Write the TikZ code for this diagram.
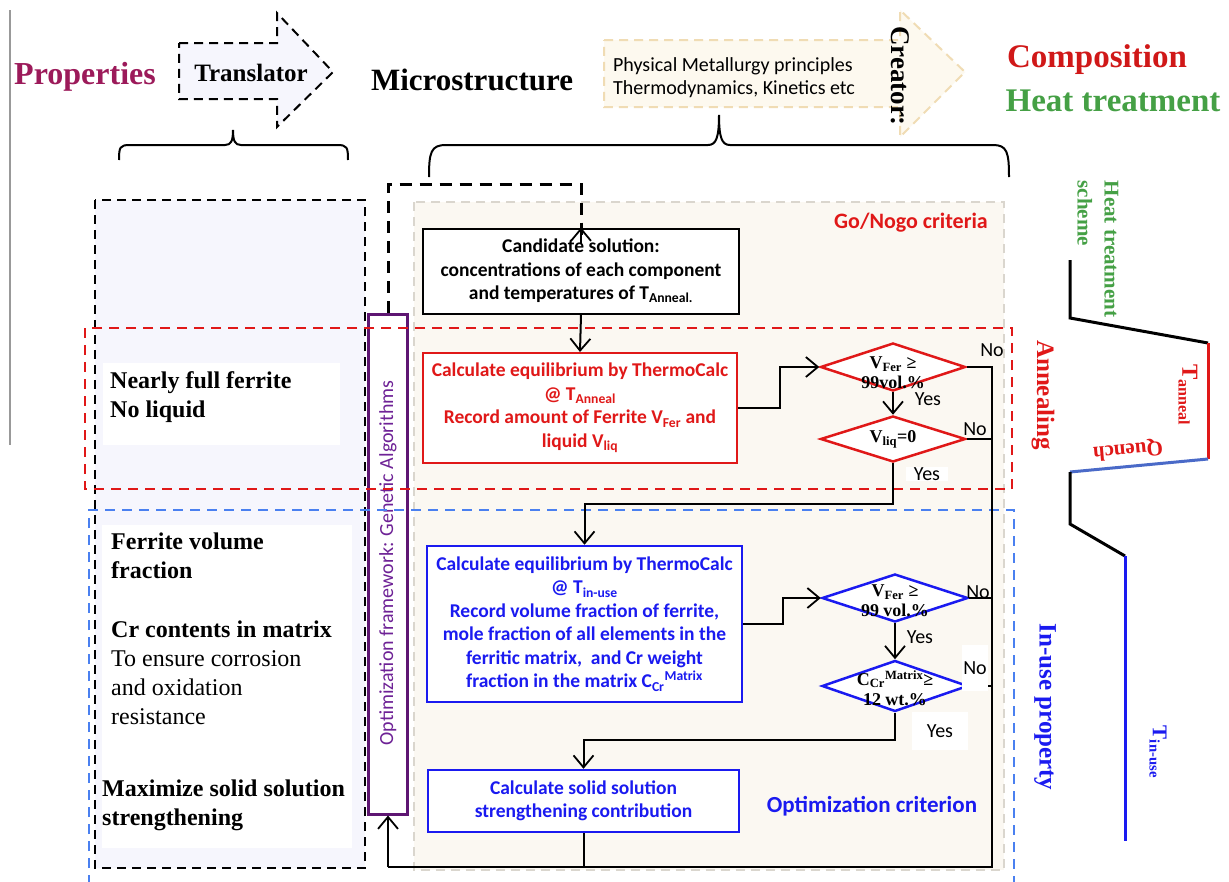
\documentclass[tikz,border=0pt]{standalone}
\usepackage{fontspec}
\setmainfont{Liberation Serif}
\newfontfamily\calib{Carlito}
\usetikzlibrary{arrows.meta,shapes.geometric}
\definecolor{propcol}{HTML}{9C1A5A}
\definecolor{compcol}{HTML}{D01818}
\definecolor{heatcol}{HTML}{45A045}
\definecolor{redc}{HTML}{E01818}
\definecolor{bluec}{HTML}{1A1AF0}
\definecolor{bluedash}{HTML}{4A80F0}
\definecolor{purp}{HTML}{5E1672}
\definecolor{purptext}{HTML}{6E2296}
\definecolor{beige}{HTML}{FBF8F2}
\definecolor{beigeline}{HTML}{DAD6CE}
\definecolor{lav}{HTML}{F6F6FD}
\definecolor{creafill}{HTML}{FDF9EF}
\definecolor{crealine}{HTML}{F0DCB4}
\definecolor{quenchc}{HTML}{4A6AC8}
\newcommand\myfs[2]{\fontsize{#1}{#2}\selectfont}
\begin{document}
\begin{tikzpicture}[x=1pt,y=-1pt,
  conn/.style={line width=2pt,black},
  arr/.style={conn,-{Straight Barb[length=12pt,width=20pt,line width=1.8pt]}},
  fbk/.style={line width=3pt,black,dash pattern=on 12pt off 8pt},
  boxtxt/.style={font=\calib\bfseries\myfs{19.5}{23.5}, align=center, fill=white, inner sep=0pt},
  cbox/.style={boxtxt, draw=black, line width=2pt},
  rbox/.style={boxtxt, draw=redc, text=redc, line width=2pt},
  bluebox/.style={boxtxt, draw=bluec, text=bluec, line width=2.5pt},
  dia/.style={diamond, inner sep=0pt, fill=white, line width=2.5pt},
  dtxt/.style={font=\bfseries\myfs{18}{20}, align=center, inner sep=0pt},
  yn/.style={font=\calib\myfs{20}{22}, inner sep=1pt},
  lefttxt/.style={font=\myfs{24}{29}, align=left, anchor=north west, inner sep=0pt},
]
\useasboundingbox (0,0) rectangle (1229,881);
\fill[white] (0,0) rectangle (1229,881);

% left gray line
\draw[line width=1.5pt, gray!80] (10,10) -- (10,445);

% top row
\node[font=\bfseries\myfs{32}{36}, text=propcol] (props) at (85,77) {Properties};
\draw[line width=2pt, dash pattern=on 9pt off 6pt, fill=lav]
  (179,43) -- (277,43) -- (277,13) -- (333,72) -- (277,127) -- (277,99) -- (179,99) -- cycle;
\node[font=\bfseries\myfs{25}{30}] (transl) at (251,73) {Translator};
\node[font=\bfseries\myfs{31}{36}] (micro) at (472,80) {Microstructure};
\draw[line width=2pt, crealine, dash pattern=on 9pt off 6pt, fill=creafill]
  (604,40) -- (900,40) -- (900,10) -- (965,72) -- (900,137) -- (900,107) -- (604,107) -- cycle;
\node[font=\calib\myfs{20}{23}, align=left] (phys) at (734,78) {Physical Metallurgy principles\\Thermodynamics, Kinetics etc};
\node[font=\bfseries\myfs{27}{30}, rotate=-90] (creator) at (900,76) {Creator:};
\node[font=\bfseries\myfs{33}{38}, text=compcol] (comp) at (1097,60) {Composition};
\node[font=\bfseries\myfs{33}{38}, text=heatcol] (heat) at (1113,101) {Heat treatment};

% braces
\draw[line width=2pt] (119,160) .. controls (119,147) and (120,145) .. (130,145) -- (225,145)
  .. controls (231,145) and (233,141) .. (233,130) .. controls (233,141) and (235,145) .. (241,145)
  -- (337,145) .. controls (347,145) and (348,147) .. (348,160);
\draw[line width=2pt] (429,177) .. controls (429,152) and (431,145) .. (446,145) -- (708,145)
  .. controls (716,145) and (719,138) .. (719,115) .. controls (719,138) and (722,145) .. (730,145)
  -- (993,145) .. controls (1007,145) and (1009,152) .. (1009,177);

% background regions
\draw[line width=2pt, dash pattern=on 9pt off 6pt, fill=lav] (95,200) rectangle (365,868);
\draw[line width=2pt, beigeline, dash pattern=on 9pt off 6pt, fill=beige] (414,202) rectangle (1004,870);
\fill[white] (103,363) rectangle (340,445);
\fill[white] (102,525) rectangle (352,848);

% purple GA bar
\node[draw=purp, line width=3pt, fill=white, minimum width=39pt, minimum height=500pt, inner sep=0pt] (gabar) at (388,564) {};
\node[font=\calib\myfs{20}{22}, text=purptext, rotate=90] (gatxt) at (388,563) {Optimization framework: Genetic Algorithms};

% dashed regions
\draw[line width=2pt, redc, dash pattern=on 10pt off 7pt] (85,328) rectangle (1012,489);
\draw[line width=2pt, bluedash, dash pattern=on 10pt off 7pt] (89,885) -- (89,510) -- (1014,510) -- (1014,885);

% left texts
\node[lefttxt, font=\bfseries\myfs{24}{29}] (t1) at (110,371) {Nearly full ferrite\\No liquid};
\node[lefttxt, font=\bfseries\myfs{24}{29}] (t2) at (111,533) {Ferrite volume\\fraction};
\node[lefttxt] (t3) at (111,621) {\textbf{Cr contents in matrix}\\To ensure corrosion\\and oxidation\\resistance};
\node[lefttxt, font=\bfseries\myfs{24}{29}] (t4) at (102,780) {Maximize solid solution\\strengthening};

% flow labels
\node[font=\calib\bfseries\myfs{22}{24}, text=redc] (gonogo) at (911,223) {Go/Nogo criteria};
\node[font=\calib\bfseries\myfs{23}{25}, text=bluec] (optcrit) at (872,806) {Optimization criterion};

% boxes
\node[cbox, minimum width=316pt, minimum height=85pt] (cand) at (581,271)
  {Candidate solution:\\concentrations of each component\\and temperatures of T\textsubscript{Anneal.}};
\node[rbox, minimum width=314pt, minimum height=110pt] (rb) at (580,408)
  {Calculate equilibrium by ThermoCalc\\@ T\textsubscript{Anneal}\\Record amount of Ferrite V\textsubscript{Fer} and\\liquid V\textsubscript{liq}};
\node[bluebox, minimum width=315pt, minimum height=156pt] (bb1) at (584.5,624)
  {Calculate equilibrium by ThermoCalc\\@ T\textsubscript{in-use}\\Record volume fraction of ferrite,\\mole fraction of all elements in the\\ferritic matrix,\ \ and Cr weight\\fraction in the matrix C\textsubscript{Cr}\textsuperscript{Matrix}};
\node[bluebox, minimum width=311pt, minimum height=62pt] (bb2) at (583.5,801)
  {Calculate solid solution\\strengthening contribution};

% diamonds
\node[dia, draw=redc, minimum width=145pt, minimum height=48pt] (d1) at (893,367) {};
\node[dtxt] (d1t) at (893,373) {V\textsubscript{Fer} ≥\\99vol.\%};
\node[dia, draw=redc, minimum width=145pt, minimum height=46pt] (d2) at (893,439) {};
\node[dtxt] (d2t) at (893,439) {V\textsubscript{liq}=0};
\node[dia, draw=bluec, minimum width=146pt, minimum height=48pt] (d3) at (895,598) {};
\node[dtxt] (d3t) at (895,601) {V\textsubscript{Fer} ≥\\99 vol.\%};
\node[dia, draw=bluec, minimum width=146pt, minimum height=51pt] (d4) at (895,686) {};
\node[dtxt] (d4t) at (895,688) {C\textsubscript{Cr}\textsuperscript{Matrix}≥\\12 wt.\%};

% junction coordinates
\coordinate (rx) at (992,0);
\coordinate (bot) at (0,867);
\coordinate (fk) at (0,184);
\coordinate (j1) at (780,0);
\coordinate (j2) at (0,504);
\coordinate (j3) at (783,0);
\coordinate (j4) at (0,740);

% connectors
\draw[fbk] (gabar.north) -- (gabar.north |- fk) -- (cand.north |- fk) -- ([yshift=-14pt]cand.north);
\draw[arr] ([yshift=-16pt]cand.north) -- (cand.north);
\draw[arr] (cand.south) -- (rb.north);
\draw[arr] (rb.east) -- (rb.east -| j1) -- (j1 |- d1.west) -- (d1.west);
\draw[arr] (d1.south) -- (d2.north);
\draw[conn] (d1.east) -- (rx |- d1.east) -- (rx |- bot) -- (gabar.south |- bot);
\draw[arr] (gabar.south |- bot) -- (gabar.south);
\draw[conn] (d2.east) -- (rx |- d2.east);
\draw[arr] (d2.south) -- (d2.south |- j2) -- (bb1.north |- j2) -- (bb1.north);
\draw[arr] (bb1.east) -- (bb1.east -| j3) -- (j3 |- d3.west) -- (d3.west);
\draw[conn] (d3.east) -- (rx |- d3.east);
\draw[arr] (d3.south) -- (d4.north);
\draw[conn] (d4.east) -- (rx |- d4.east);
\draw[arr] (d4.south) -- (d4.south |- j4) -- (bb2.north |- j4) -- (bb2.north);
\draw[conn] (bb2.south) -- (bb2.south |- bot);

% yes / no labels
\node[yn] (no1) at (992,350) {No};
\node[yn] (no2) at (975,429) {No};
\node[yn] (no3) at (978,592) {No};
\node[yn, fill=white, minimum height=46pt, minimum width=26pt] (no4) at (975,668) {No};
\node[yn] (yes1) at (928,399) {Yes};
\node[yn, fill=white, minimum width=42pt] (yes2) at (927,474) {Yes};
\node[yn] (yes3) at (920,637) {Yes};
\node[yn, fill=white, minimum width=56pt, minimum height=38pt] (yes4) at (940,731) {Yes};

% heat treatment scheme
\draw[line width=3pt, black] (1070,260) -- (1070,318) -- (1208,343);
\draw[line width=3pt, redc] (1208,343) -- (1208,459);
\draw[line width=3pt, quenchc] (1208,459) -- (1070,472);
\draw[line width=3pt, black] (1070,472) -- (1070,524) -- (1125,556);
\draw[line width=3pt, bluec] (1125,556) -- (1125,841);
\node[font=\bfseries\myfs{21}{27}, text=heatcol, rotate=-90, align=left] (hts) at (1098,249) {Heat treatment\\scheme};
\node[font=\bfseries\myfs{25}{30}, text=redc, rotate=-90] (anneal) at (1043,395) {Annealing};
\node[font=\bfseries\myfs{23}{28}, text=redc, rotate=-90] (tann) at (1188,395) {T\textsubscript{anneal}};
\node[font=\bfseries\myfs{21}{26}, text=redc, rotate=185] (quench) at (1128,450) {Quench};
\node[font=\bfseries\myfs{25}{30}, text=bluec, rotate=-90] (inuse) at (1045,707) {In-use property};
\node[font=\bfseries\myfs{21}{26}, text=bluec, rotate=-90] (tinuse) at (1158,752) {T\textsubscript{in-use}};
\end{tikzpicture}
\end{document}
